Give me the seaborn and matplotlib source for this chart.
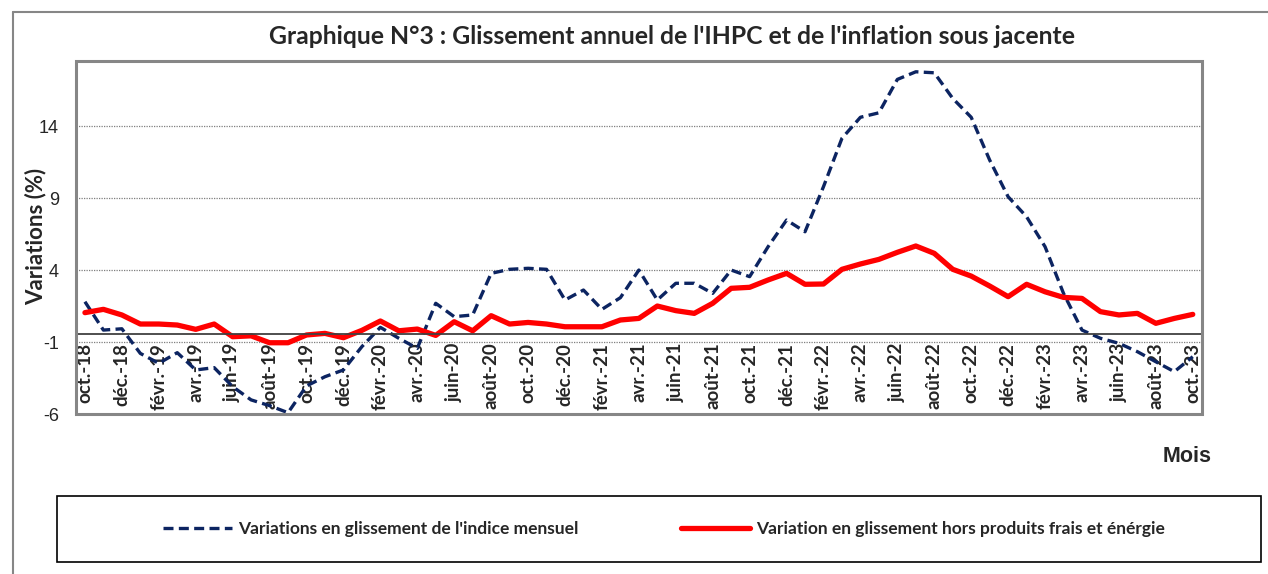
import matplotlib
matplotlib.use("Agg")
import matplotlib.pyplot as plt
import seaborn as sns
import pandas as pd
import numpy as np
from matplotlib.patches import Rectangle
from matplotlib.lines import Line2D
from matplotlib.ticker import FixedLocator

months = ["oct.-18", "nov.-18", "déc.-18", "janv.-19", "févr.-19", "mars-19", "avr.-19", "mai-19",
          "juin-19", "juil.-19", "août-19", "sept.-19", "oct.-19", "nov.-19", "déc.-19",
          "janv.-20", "févr.-20", "mars-20", "avr.-20", "mai-20", "juin-20", "juil.-20",
          "août-20", "sept.-20", "oct.-20", "nov.-20", "déc.-20", "janv.-21", "févr.-21",
          "mars-21", "avr.-21", "mai-21", "juin-21", "juil.-21", "août-21", "sept.-21",
          "oct.-21", "nov.-21", "déc.-21", "janv.-22", "févr.-22", "mars-22", "avr.-22",
          "mai-22", "juin-22", "juil.-22", "août-22", "sept.-22", "oct.-22", "nov.-22",
          "déc.-22", "janv.-23", "févr.-23", "mars-23", "avr.-23", "mai-23", "juin-23",
          "juil.-23", "août-23", "sept.-23", "oct.-23"]

ihpc = [1.82, -0.15, -0.06, -1.77, -2.46, -1.72, -2.92, -2.76, -4.08, -5.0, -5.4, -5.89,
        -4.03, -3.39, -2.92, -1.3, 0.04, -0.72, -1.42, 1.71, 0.78, 0.9, 3.79, 4.07, 4.14,
        4.07, 1.94, 2.63, 1.29, 2.1, 4.02, 1.94, 3.1, 3.1, 2.4, 4.02, 3.56, 5.64, 7.49,
        6.68, 9.81, 13.17, 14.63, 14.94, 17.26, 17.79, 17.72, 15.94, 14.63, 11.66, 9.11,
        7.72, 5.64, 2.4, -0.15, -0.72, -1.07, -1.65, -2.35, -3.04, -2.0]

core = [1.06, 1.29, 0.9, 0.27, 0.27, 0.2, -0.1, 0.27, -0.61, -0.55, -1.03, -1.03, -0.49,
        -0.38, -0.68, -0.17, 0.48, -0.2, -0.08, -0.52, 0.43, -0.2, 0.85, 0.27, 0.38, 0.27,
        0.08, 0.08, 0.08, 0.55, 0.66, 1.52, 1.2, 1.01, 1.71, 2.75, 2.82, 3.33, 3.79, 3.03,
        3.05, 4.07, 4.44, 4.76, 5.25, 5.69, 5.18, 4.07, 3.6, 2.91, 2.17, 3.03, 2.51, 2.12,
        2.05, 1.13, 0.9, 1.01, 0.32, 0.66, 0.94]

y_ticks = [-6, -1, 4, 9, 14]
label_ihpc = "Variations en glissement de l'indice mensuel"
label_core = "Variation en glissement hors produits frais et énérgie"
title = "Graphique N°3 : Glissement annuel de l'IHPC et de l'inflation sous jacente"

df = pd.DataFrame({"pos": np.arange(len(months)), "mois": months, "ihpc": ihpc, "core": core})

sns.set_style("white")
plt.rcParams["font.family"] = ["Lato", "DejaVu Sans"]

W, H = 1268, 574
fig = plt.figure(figsize=(W / 100, H / 100), dpi=100)
ax = fig.add_axes([75.7 / W, 1 - 414.3 / H, (1202 - 75.7) / W, (414.3 - 60.7) / H])

navy = "#0c2461"
red = "#ff0000"
sns.lineplot(data=df, x="pos", y="ihpc", ax=ax, color=navy, linewidth=2.4,
             linestyle=(0, (3.0, 1.6)), label=label_ihpc, legend=False)
sns.lineplot(data=df, x="pos", y="core", ax=ax, color=red, linewidth=3.8,
             label=label_core, legend=False)

ax.set_xlim(-0.5, len(months) - 0.5)
ax.set_ylim(-6, 18.56)
ax.set_yticks(y_ticks)
ax.set_yticklabels([str(t) for t in y_ticks], family="Liberation Sans", fontsize=13)
ax.yaxis.grid(True, linestyle=(0, (1, 1)), color="#7f7f7f", linewidth=0.9)
ax.xaxis.grid(False)
ax.tick_params(axis="y", direction="out", length=5, width=1.2, color="#868686", pad=7)

# category axis crossing near -0.45
ax.spines["bottom"].set_position(("data", -0.45))
ax.spines["bottom"].set_color("#404040")
ax.spines["bottom"].set_linewidth(1.3)
for s in ["left", "right", "top"]:
    ax.spines[s].set_color("#868686")
    ax.spines[s].set_linewidth(2)
ax.add_patch(Rectangle((0, 0), 1, 1, transform=ax.transAxes, fill=False,
                       edgecolor="#868686", linewidth=2.2, zorder=5, clip_on=False))

ax.set_xticks(np.arange(0, len(months), 2))
ax.set_xticklabels(months[::2], rotation=90, fontweight="bold", fontsize=13.5,
                   va="top", ha="center")
ax.xaxis.set_minor_locator(FixedLocator(np.arange(-0.5, len(months), 1)))
ax.tick_params(axis="x", which="major", length=0, pad=6)
ax.tick_params(axis="x", which="minor", length=5, width=1.1, color="#404040", direction="out")
ax.set_xlabel("")
ax.set_ylabel("")

fig.text(36 / W, 1 - 236 / H, "Variations (%)", rotation=90, ha="center", va="center",
         fontsize=16, fontweight="bold")
fig.text(672 / W, 1 - 36 / H, title, ha="center", va="center", fontsize=17.8,
         fontweight="bold")
fig.text(1187 / W, 1 - 456 / H, "Mois", ha="center", va="center", fontsize=15.5,
         fontweight="bold", family="Liberation Sans")

# outer chart-area frame
fig.add_artist(Line2D([13 / W, 13 / W], [0, 1 - 12 / H], transform=fig.transFigure,
                      color="#868686", linewidth=1.5))
fig.add_artist(Line2D([13 / W, 1], [1 - 12 / H, 1 - 12 / H], transform=fig.transFigure,
                      color="#868686", linewidth=1.5))

# legend box
fig.add_artist(Rectangle((57 / W, 1 - 562 / H), (1261 - 57) / W, (562 - 496) / H,
                         transform=fig.transFigure, fill=False, edgecolor="black",
                         linewidth=1.2))
handles, labels = ax.get_legend_handles_labels()
fig.legend(handles, labels, loc="center", ncol=2, mode="expand",
           bbox_to_anchor=(163 / W, 1 - 545 / H, (1165 - 163) / W, 32 / H),
           frameon=False, handlelength=4.0, handletextpad=0.35,
           borderpad=0, borderaxespad=0, prop={"weight": "bold", "size": 12.5})

fig.savefig("out.png", dpi=100)
